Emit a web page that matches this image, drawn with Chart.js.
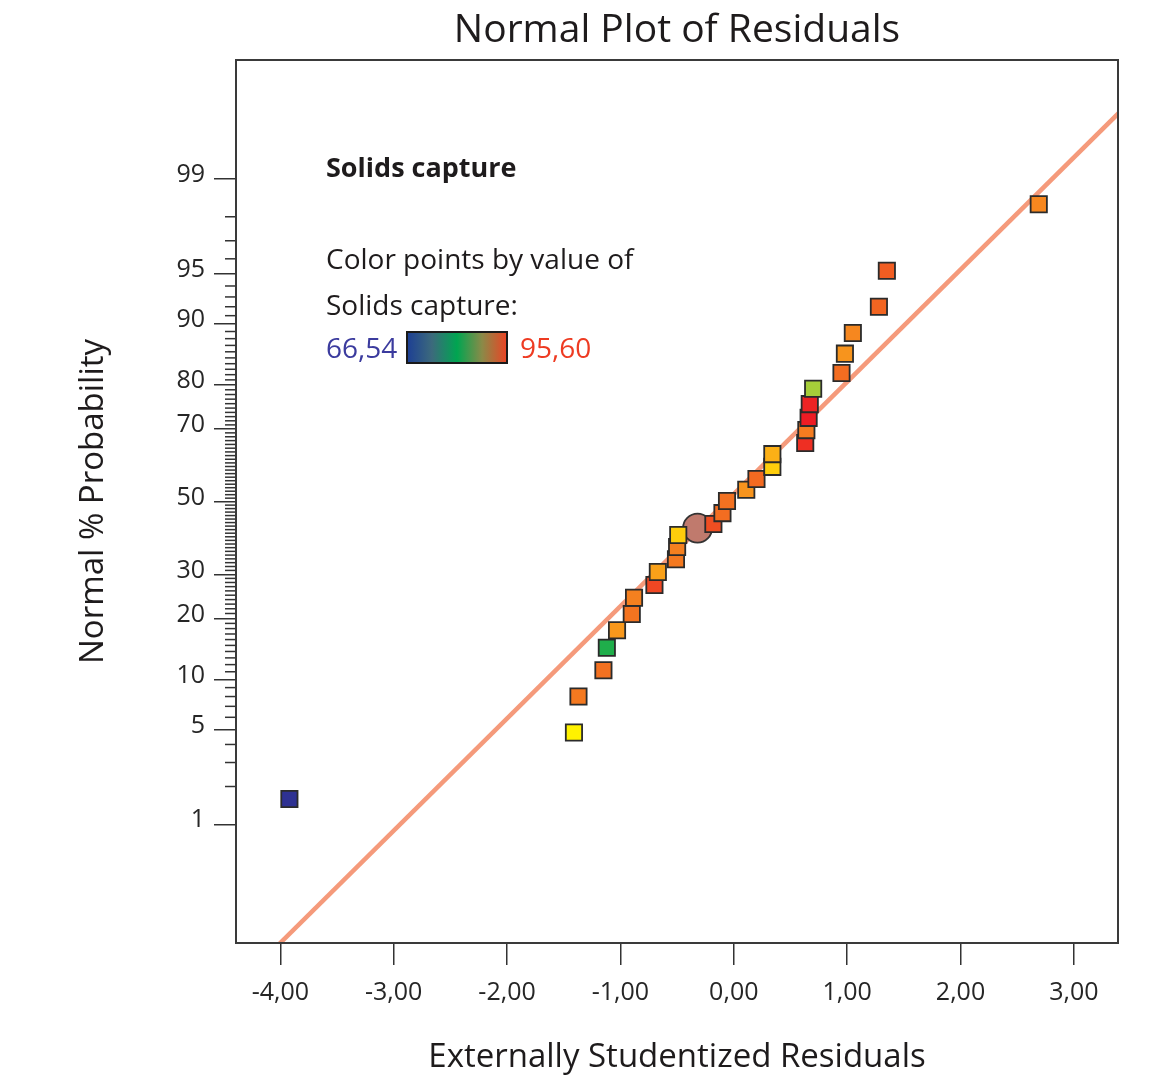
<!DOCTYPE html>
<html>
<head>
<meta charset="utf-8">
<script src="https://cdn.jsdelivr.net/npm/chart.js@4.4.1/dist/chart.umd.min.js"></script>
<style>
  html, body { margin: 0; padding: 0; background: #ffffff; }
  #wrap { width: 1161px; height: 1077px; }
</style>
</head>
<body>
<div id="wrap"><canvas id="c" width="1161" height="1077"></canvas></div>
<script>
// ---------------- DATA ----------------
const chartTitle = 'Normal Plot of Residuals';
const xTitle = 'Externally Studentized Residuals';
const yTitle = 'Normal % Probability';
const legendTitle = 'Solids capture';
const legendLine1 = 'Color points by value of';
const legendLine2 = 'Solids capture:';
const colorMin = 66.54;
const colorMax = 95.60;

// Externally studentized residuals (x) of the square points
const residuals = [-3.92, -1.41, -1.37, -1.15, -1.12, -1.03, -0.90, -0.88, -0.70, -0.67,
                   -0.51, -0.50, -0.49, -0.18, -0.10, -0.06, 0.11, 0.20, 0.34, 0.34,
                   0.63, 0.64, 0.66, 0.67, 0.70, 0.95, 0.98, 1.05, 1.28, 1.35, 2.69];
// Normal % probability (y) of the square points
const normalPct = [1.6, 4.8, 8.0, 11.2, 14.6, 17.7, 20.9, 24.4, 27.4, 30.6,
                   33.9, 37.2, 40.5, 43.6, 46.7, 50.2, 53.4, 56.5, 59.9, 63.4,
                   66.4, 69.7, 72.7, 75.9, 79.2, 82.3, 85.7, 88.8, 92.0, 95.2, 98.4];
// Solids capture value of each point (drives colour)
const solidsCapture = [66.54, 85.0, 91.0, 91.5, 80.0, 88.8, 91.3, 90.5, 93.8, 88.3,
                       91.0, 90.5, 86.3, 93.5, 91.8, 91.5, 89.0, 92.0, 86.3, 87.5,
                       94.8, 90.8, 95.6, 95.3, 82.5, 91.8, 89.0, 90.0, 92.3, 92.8, 90.0];
// Highlighted (circle) point
const circleResidual = [-0.32];
const circlePct = [42.4];
// Reference line (normal line) endpoints
const lineResidual = [-4.5, 3.5];
const linePct = [0.0168, 99.805];

// Tick labels
const xTickValues = [-4, -3, -2, -1, 0, 1, 2, 3];
const yMajorTicks = [1, 5, 10, 20, 30, 50, 70, 80, 90, 95, 99];
const yMinorTicks = [];
for (let p = 1; p <= 99; p++) if (!yMajorTicks.includes(p)) yMinorTicks.push(p);

// Colour scale stops (value -> colour)
const colorStopValues = [66.54, 80.0, 82.5, 85.0, 87.0, 89.0, 91.0, 93.0, 95.6];
const colorStopColors = ['#2e3192', '#1fae4b', '#a6ce39', '#fff200', '#fdb913', '#f7941d', '#f47920', '#f15a22', '#ed1c24'];

// ---------------- HELPERS ----------------
function probit(p) { // inverse standard normal CDF (Acklam)
  const a = [-3.969683028665376e+01, 2.209460984245205e+02, -2.759285104469687e+02, 1.383577518672690e+02, -3.066479806614716e+01, 2.506628277459239e+00];
  const b = [-5.447609879822406e+01, 1.615858368580409e+02, -1.556989798598866e+02, 6.680131188771972e+01, -1.328068155288572e+01];
  const c = [-7.784894002430293e-03, -3.223964580411365e-01, -2.400758277161838e+00, -2.549732539343734e+00, 4.374664141464968e+00, 2.938163982698783e+00];
  const d = [7.784695709041462e-03, 3.224671290700398e-01, 2.445134137142996e+00, 3.754408661907416e+00];
  const pl = 0.02425, ph = 1 - pl;
  let q, r;
  if (p < pl) { q = Math.sqrt(-2 * Math.log(p)); return (((((c[0]*q+c[1])*q+c[2])*q+c[3])*q+c[4])*q+c[5]) / ((((d[0]*q+d[1])*q+d[2])*q+d[3])*q+1); }
  if (p > ph) { q = Math.sqrt(-2 * Math.log(1 - p)); return -(((((c[0]*q+c[1])*q+c[2])*q+c[3])*q+c[4])*q+c[5]) / ((((d[0]*q+d[1])*q+d[2])*q+d[3])*q+1); }
  q = p - 0.5; r = q * q;
  return (((((a[0]*r+a[1])*r+a[2])*r+a[3])*r+a[4])*r+a[5])*q / (((((b[0]*r+b[1])*r+b[2])*r+b[3])*r+b[4])*r+1);
}
function hexToRgb(h) { const n = parseInt(h.slice(1), 16); return [(n >> 16) & 255, (n >> 8) & 255, n & 255]; }
function valueColor(v) {
  if (v <= colorStopValues[0]) return colorStopColors[0];
  for (let i = 1; i < colorStopValues.length; i++) {
    if (v <= colorStopValues[i]) {
      const t = (v - colorStopValues[i-1]) / (colorStopValues[i] - colorStopValues[i-1]);
      const a = hexToRgb(colorStopColors[i-1]), b = hexToRgb(colorStopColors[i]);
      return 'rgb(' + a.map((x, k) => Math.round(x + (b[k] - x) * t)).join(',') + ')';
    }
  }
  return colorStopColors[colorStopColors.length - 1];
}
const toXY = (xs, ps) => xs.map((x, i) => ({ x: x, y: probit(ps[i] / 100) }));

const FONT = "'Open Sans', 'Noto Sans', sans-serif";
const TEXT = '#1e1b1c';

// ---------------- DECORATION PLUGIN ----------------
const decor = {
  id: 'decor',
  afterDraw(chart) {
    const { ctx, chartArea: a, scales } = chart;
    const y = scales.y;
    ctx.save();
    // minor probability ticks
    ctx.strokeStyle = '#333333';
    ctx.lineWidth = 1.5;
    yMinorTicks.forEach(p => {
      const py = y.getPixelForValue(probit(p / 100));
      ctx.beginPath(); ctx.moveTo(a.left - 11, py); ctx.lineTo(a.left, py); ctx.stroke();
    });
    // plot frame
    ctx.strokeStyle = '#3a3a3a';
    ctx.lineWidth = 2;
    ctx.strokeRect(a.left, a.top, a.right - a.left, a.bottom - a.top);
    // chart title
    ctx.fillStyle = TEXT;
    ctx.textAlign = 'center';
    ctx.textBaseline = 'alphabetic';
    ctx.font = '39px ' + FONT;
    ctx.fillText(chartTitle, (a.left + a.right) / 2, 42);
    // legend block
    const lx = a.left + 90;
    ctx.textAlign = 'left';
    ctx.font = 'bold 27px ' + FONT;
    ctx.fillText(legendTitle, lx, a.top + 117);
    ctx.font = '28px ' + FONT;
    ctx.fillText(legendLine1, lx, a.top + 209);
    ctx.fillText(legendLine2, lx, a.top + 255);
    ctx.fillStyle = '#3b3b9e';
    ctx.fillText(colorMin.toFixed(2).replace('.', ','), lx, a.top + 298);
    ctx.fillStyle = '#ee3b22';
    ctx.fillText(colorMax.toFixed(2).replace('.', ','), a.left + 284, a.top + 298);
    // gradient bar
    const bx = a.left + 171, by = a.top + 272, bw = 100, bh = 31;
    const g = ctx.createLinearGradient(bx, 0, bx + bw, 0);
    g.addColorStop(0, '#1d3f94');
    g.addColorStop(0.25, '#3c6a7c');
    g.addColorStop(0.5, '#00a551');
    g.addColorStop(0.75, '#8a8a48');
    g.addColorStop(1, '#ec4324');
    ctx.fillStyle = g;
    ctx.fillRect(bx, by, bw, bh);
    ctx.strokeStyle = '#1a1a1a';
    ctx.lineWidth = 2;
    ctx.strokeRect(bx, by, bw, bh);
    ctx.restore();
  }
};

// ---------------- CHART ----------------
new Chart(document.getElementById('c'), {
  type: 'scatter',
  data: {
    datasets: [
      {
        label: 'Residuals',
        data: toXY(residuals, normalPct),
        pointStyle: 'rect',
        pointRadius: 11.5,
        pointHoverRadius: 11.5,
        backgroundColor: solidsCapture.map(valueColor),
        borderColor: '#2b2b2b',
        borderWidth: 1.8,
        order: 0
      },
      {
        label: 'Selected',
        data: toXY(circleResidual, circlePct),
        pointStyle: 'circle',
        pointRadius: 14.5,
        pointHoverRadius: 14.5,
        backgroundColor: '#c07a6d',
        borderColor: '#333333',
        borderWidth: 1.8,
        order: 1
      },
      {
        label: 'Normal line',
        type: 'line',
        data: toXY(lineResidual, linePct),
        borderColor: '#f59a7b',
        borderWidth: 4.5,
        pointRadius: 0,
        fill: false,
        order: 2
      }
    ]
  },
  options: {
    responsive: false,
    animation: false,
    devicePixelRatio: 1,
    layout: { padding: { top: 60, right: 43, bottom: 0, left: 0 } },
    plugins: { legend: { display: false }, tooltip: { enabled: false }, title: { display: false } },
    scales: {
      x: {
        type: 'linear',
        min: -4.391,
        max: 3.389,
        afterBuildTicks: s => { s.ticks = xTickValues.map(v => ({ value: v })); },
        afterFit: s => { s.height = 134; },
        border: { display: false },
        grid: { drawOnChartArea: false, drawTicks: true, tickLength: 22, color: '#333333', lineWidth: 1.5 },
        ticks: {
          autoSkip: false, maxRotation: 0, padding: 13, color: '#262626',
          font: { family: FONT, size: 25 },
          callback: v => v.toFixed(2).replace('.', ',')
        },
        title: { display: true, text: xTitle, color: TEXT, font: { family: FONT, size: 33 }, padding: { top: 0, bottom: 0 } }
      },
      y: {
        type: 'linear',
        min: -3.182,
        max: 3.184,
        afterBuildTicks: s => { s.ticks = yMajorTicks.map(p => ({ value: probit(p / 100) })); },
        afterFit: s => { s.width = 236; },
        border: { display: false },
        grid: { drawOnChartArea: false, drawTicks: true, tickLength: 22, color: '#333333', lineWidth: 1.5 },
        ticks: {
          autoSkip: false, padding: 9, color: '#262626', labelOffset: -4,
          font: { family: FONT, size: 25 },
          callback: (v, i) => String(yMajorTicks[i])
        },
        title: { display: true, text: yTitle, color: TEXT, font: { family: FONT, size: 33 }, padding: { top: 74, bottom: 0 } }
      }
    }
  },
  plugins: [decor]
});
</script>
</body>
</html>
